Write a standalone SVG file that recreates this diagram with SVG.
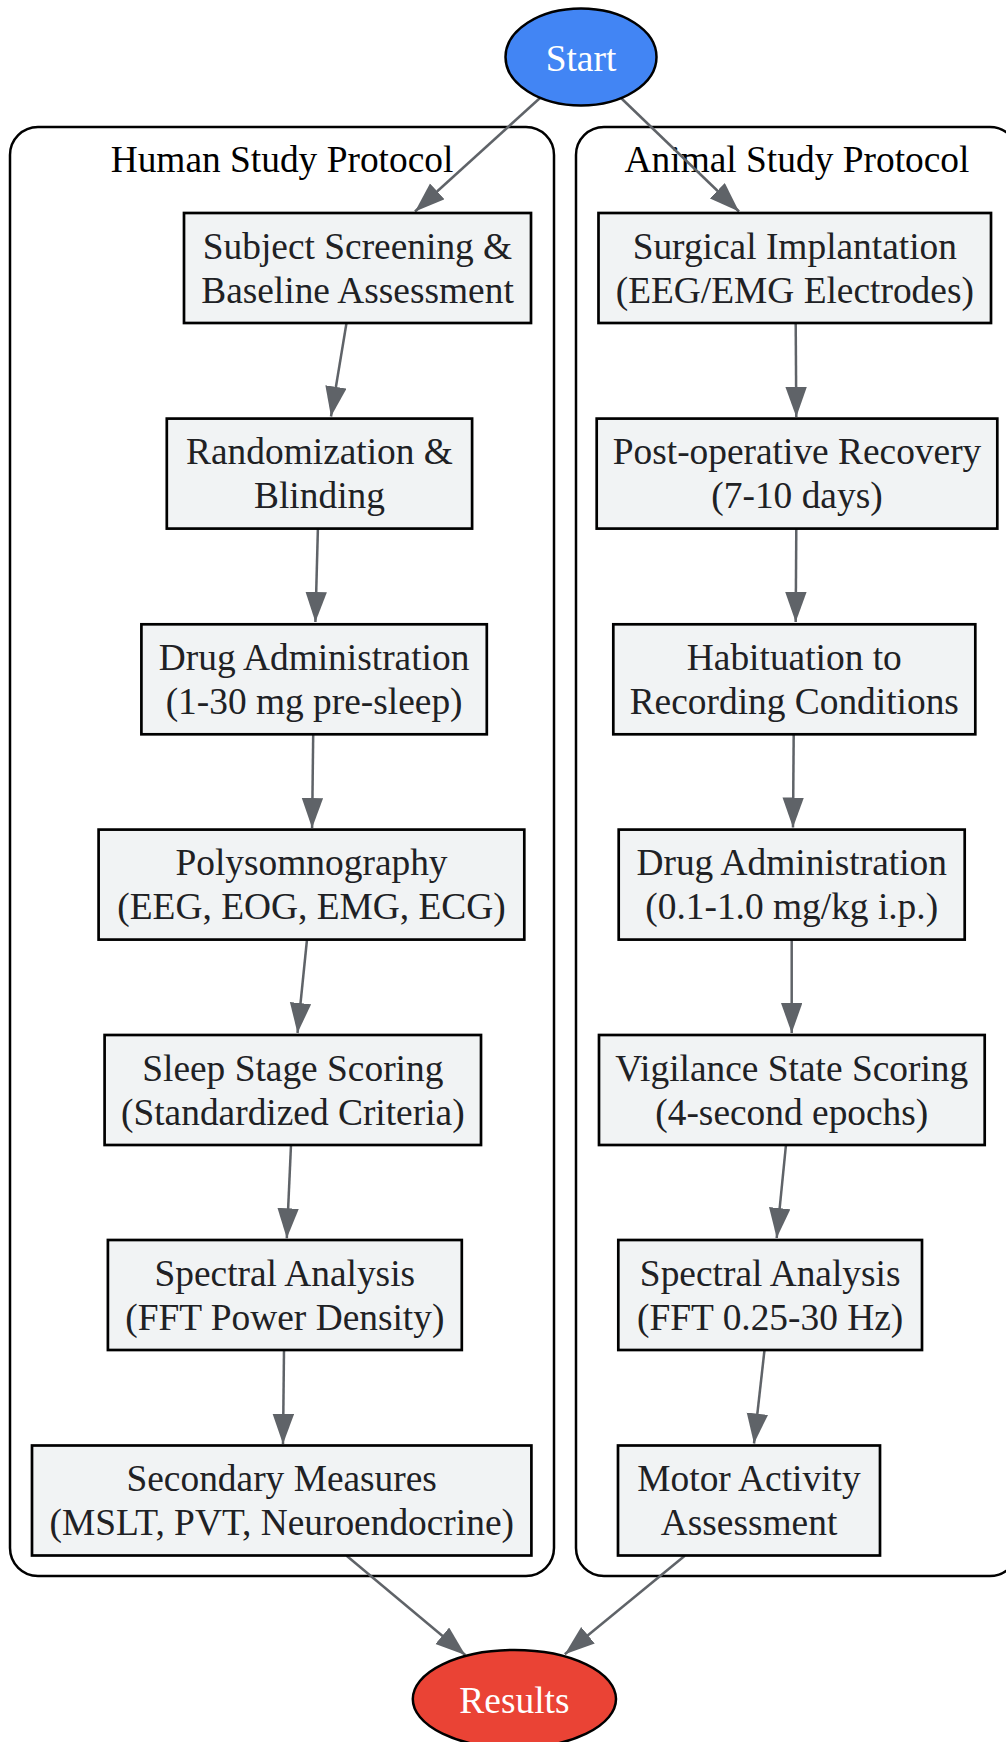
<svg xmlns="http://www.w3.org/2000/svg" width="1006" height="1742" viewBox="0 0 1006 1742">
<style>
.cluster{fill:#ffffff;stroke:#000000;stroke-width:2.5}
.ctitle{font-family:"Liberation Serif","Times New Roman",serif;font-size:37.4px;fill:#000000;text-anchor:middle}
.box{fill:#f1f3f4;stroke:#000000;stroke-width:2.7}
.lbl{font-family:"Liberation Serif","Times New Roman",serif;font-size:37.4px;fill:#202124;text-anchor:middle}
.term{stroke:#000000;stroke-width:2.5}
.tlbl{font-family:"Liberation Serif","Times New Roman",serif;font-size:37.4px;fill:#ffffff;text-anchor:middle}
.edge{fill:none;stroke:#5f6368;stroke-width:2.5}
</style>
<defs>
<marker id="arr" markerUnits="userSpaceOnUse" markerWidth="30" markerHeight="22" refX="30" refY="10.7" orient="auto">
<path d="M0,0 L30,10.7 L0,21.4 z" fill="#5f6368"/>
</marker>
</defs>

<g id="cluster-human">
<rect class="cluster" x="10" y="127" width="544" height="1449" rx="28" ry="28"/>
<text class="ctitle" x="282" y="172">Human Study Protocol</text>
</g>
<g id="cluster-animal">
<rect class="cluster" x="576" y="127" width="442" height="1449" rx="28" ry="28"/>
<text class="ctitle" x="797" y="172">Animal Study Protocol</text>
</g>

<g id="edges">
<line class="edge" x1="540" y1="98" x2="415" y2="211.5" marker-end="url(#arr)"/>
<line class="edge" x1="621" y1="98" x2="739" y2="211.5" marker-end="url(#arr)"/>
<line class="edge" x1="346.5" y1="323" x2="331" y2="416.5" marker-end="url(#arr)"/>
<line class="edge" x1="317.9" y1="528.6" x2="315.4" y2="622" marker-end="url(#arr)"/>
<line class="edge" x1="313.2" y1="734" x2="312.1" y2="828" marker-end="url(#arr)"/>
<line class="edge" x1="307" y1="939.5" x2="297.5" y2="1033" marker-end="url(#arr)"/>
<line class="edge" x1="291" y1="1145" x2="286.8" y2="1238.3" marker-end="url(#arr)"/>
<line class="edge" x1="284" y1="1350" x2="283" y2="1444" marker-end="url(#arr)"/>
<line class="edge" x1="795.7" y1="323" x2="796.3" y2="417" marker-end="url(#arr)"/>
<line class="edge" x1="796.3" y1="528.6" x2="795.7" y2="622" marker-end="url(#arr)"/>
<line class="edge" x1="793.7" y1="734.3" x2="793" y2="827.5" marker-end="url(#arr)"/>
<line class="edge" x1="791.7" y1="939.3" x2="791.7" y2="1033" marker-end="url(#arr)"/>
<line class="edge" x1="786" y1="1144.6" x2="776.7" y2="1238" marker-end="url(#arr)"/>
<line class="edge" x1="764.5" y1="1350" x2="754" y2="1443.5" marker-end="url(#arr)"/>
<line class="edge" x1="346.6" y1="1555.7" x2="465.3" y2="1655" marker-end="url(#arr)"/>
<line class="edge" x1="684.8" y1="1555.7" x2="564.8" y2="1654.3" marker-end="url(#arr)"/>
</g>

<g id="start">
<ellipse class="term" cx="581" cy="57" rx="75.5" ry="48.5" fill="#4285f4"/>
<text class="tlbl" x="581" y="70.5">Start</text>
</g>

<g id="h1">
<rect class="box" x="184" y="213" width="347" height="110"/>
<text class="lbl" x="357.5" y="258.5">Subject Screening &amp;</text>
<text class="lbl" x="357.5" y="302.5">Baseline Assessment</text>
</g>
<g id="h2">
<rect class="box" x="166.8" y="418.6" width="305.3" height="110"/>
<text class="lbl" x="319.5" y="464.1">Randomization &amp;</text>
<text class="lbl" x="319.5" y="508.1">Blinding</text>
</g>
<g id="h3">
<rect class="box" x="141.4" y="624.3" width="345.4" height="110"/>
<text class="lbl" x="314.1" y="669.8">Drug Administration</text>
<text class="lbl" x="314.1" y="713.8">(1-30 mg pre-sleep)</text>
</g>
<g id="h4">
<rect class="box" x="98.6" y="829.6" width="425.7" height="110"/>
<text class="lbl" x="311.5" y="875.1">Polysomnography</text>
<text class="lbl" x="311.5" y="919.1">(EEG, EOG, EMG, ECG)</text>
</g>
<g id="h5">
<rect class="box" x="104.6" y="1035" width="376.4" height="110"/>
<text class="lbl" x="292.8" y="1080.5">Sleep Stage Scoring</text>
<text class="lbl" x="292.8" y="1124.5">(Standardized Criteria)</text>
</g>
<g id="h6">
<rect class="box" x="107.9" y="1240" width="353.9" height="110"/>
<text class="lbl" x="284.8" y="1285.5">Spectral Analysis</text>
<text class="lbl" x="284.8" y="1329.5">(FFT Power Density)</text>
</g>
<g id="h7">
<rect class="box" x="32" y="1445.5" width="499.4" height="110"/>
<text class="lbl" x="281.7" y="1491">Secondary Measures</text>
<text class="lbl" x="281.7" y="1535">(MSLT, PVT, Neuroendocrine)</text>
</g>

<g id="a1">
<rect class="box" x="598.5" y="213" width="392.5" height="110"/>
<text class="lbl" x="794.8" y="258.5">Surgical Implantation</text>
<text class="lbl" x="794.8" y="302.5">(EEG/EMG Electrodes)</text>
</g>
<g id="a2">
<rect class="box" x="596.7" y="418.6" width="400.6" height="110"/>
<text class="lbl" x="797" y="464.1">Post-operative Recovery</text>
<text class="lbl" x="797" y="508.1">(7-10 days)</text>
</g>
<g id="a3">
<rect class="box" x="613.3" y="624.3" width="362" height="110"/>
<text class="lbl" x="794.3" y="669.8">Habituation to</text>
<text class="lbl" x="794.3" y="713.8">Recording Conditions</text>
</g>
<g id="a4">
<rect class="box" x="618.7" y="829.6" width="346" height="110"/>
<text class="lbl" x="791.7" y="875.1">Drug Administration</text>
<text class="lbl" x="791.7" y="919.1">(0.1-1.0 mg/kg i.p.)</text>
</g>
<g id="a5">
<rect class="box" x="599" y="1035" width="385.7" height="110"/>
<text class="lbl" x="791.8" y="1080.5">Vigilance State Scoring</text>
<text class="lbl" x="791.8" y="1124.5">(4-second epochs)</text>
</g>
<g id="a6">
<rect class="box" x="618.3" y="1240" width="303.7" height="110"/>
<text class="lbl" x="770.2" y="1285.5">Spectral Analysis</text>
<text class="lbl" x="770.2" y="1329.5">(FFT 0.25-30 Hz)</text>
</g>
<g id="a7">
<rect class="box" x="618" y="1445.5" width="262" height="110"/>
<text class="lbl" x="749" y="1491">Motor Activity</text>
<text class="lbl" x="749" y="1535">Assessment</text>
</g>

<g id="results">
<ellipse class="term" cx="514.4" cy="1699" rx="101.6" ry="49" fill="#ea4335"/>
<text class="tlbl" x="514.4" y="1712.5">Results</text>
</g>
</svg>
